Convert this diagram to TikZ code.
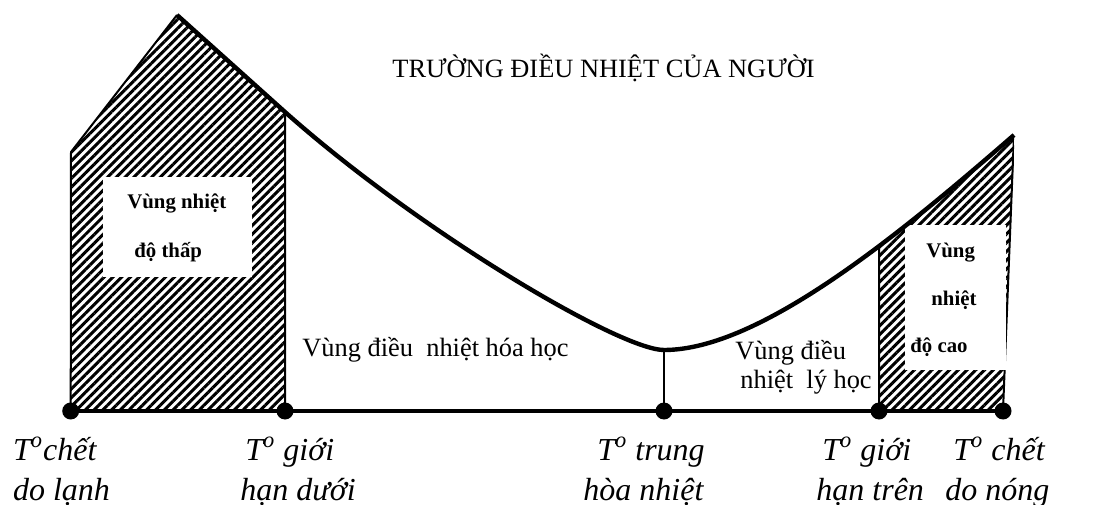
\documentclass[tikz,border=0pt]{standalone}
\usepackage{fontspec}
\setmainfont{Liberation Serif}
\usetikzlibrary{patterns.meta}

\tikzset{
  hatch/.style={pattern={Lines[angle=45,distance=3.1pt,line width=1.5pt]}},
  zonetxt/.style={anchor=base west, inner sep=0pt, font=\fontsize{13.2}{16}\selectfont},
  boxtxt/.style={anchor=base west, inner sep=0pt, font=\fontsize{10.4}{12}\selectfont\bfseries},
  templbl/.style={anchor=base west, inner sep=0pt, font=\fontsize{16}{20}\selectfont\itshape},
}

\begin{document}
\begin{tikzpicture}[x=0.5pt, y=0.5pt]
  \useasboundingbox (0,0) rectangle (1102,504);
  % points on the temperature axis
  \coordinate (cold) at (70.7,93);
  \coordinate (low) at (285,93);
  \coordinate (mid) at (664,93);
  \coordinate (up) at (879,93);
  \coordinate (hot) at (1003,93);
  % points on the curve
  \coordinate (apex) at (177,489);
  \coordinate (corner) at (71,352);
  \coordinate (knee) at (285,392);
  \coordinate (mn) at (664,154);
  \coordinate (peak) at (1014,369);

  % cold zone
  \fill[hatch] (cold) -- (corner) -- (apex) -- (knee) -- (low) -- cycle;
  \draw[line width=1pt] (low) -- (knee) (apex) -- (corner) -- (cold);
  % hot zone, cut off under the curve
  \begin{scope}
    \clip (mn) .. controls (760,154) and (900,270) .. (peak) -- (1020,93) -- (mid) -- cycle;
    \fill[hatch] (up) -- (879,400) -- (1016,400) -- (hot) -- cycle;
    \draw[line width=1pt] (up) -- (879,400) (hot) -- (1015.2,400);
  \end{scope}
  % white label boxes
  \fill[white] (103,227) rectangle (252,327);
  \fill[white] (905,134) rectangle (1006,279);

  \draw[line width=2.2pt, line join=round] (apex) -- (knee)
    .. controls (420,272) and (620,154) .. (mn)
    .. controls (760,154) and (900,270) .. (peak);
  \draw[line width=0.7pt] (mn) -- (mid);
  \draw[line width=2pt] (cold) -- (hot);
  \foreach \p in {cold,low,mid,up,hot}
    \fill (\p) circle (4.25pt);

  \node[zonetxt] (title) at (392,426) {TRƯỜNG ĐIỀU NHIỆT CỦA NGƯỜI};
  \node[zonetxt] (chem) at (302,148) {Vùng điều\ \ nhiệt hóa học};
  \node[zonetxt] (phys1) at (735,145) {Vùng điều};
  \node[zonetxt] (phys2) at (740,116) {nhiệt\ \ lý học};

  \node[boxtxt] (cold1) at (127,295) {Vùng nhiệt};
  \node[boxtxt] (cold2) at (134,247) {độ thấp};
  \node[boxtxt] (hot1) at (926,247) {Vùng};
  \node[boxtxt] (hot2) at (931,199) {nhiệt};
  \node[boxtxt] (hot3) at (910,152) {độ cao};

  \foreach \nm/\xa/\xb/\la/\lb in {
      cold/12.7/12.7/{T\textsuperscript{o}chết}/{do lạnh},
      low/245/240/{T\textsuperscript{o} giới}/{hạn dưới},
      mid/597/583/{T\textsuperscript{o} trung}/{hòa nhiệt},
      up/822/816/{T\textsuperscript{o} giới}/{hạn trên},
      hot/953/945/{T\textsuperscript{o} chết}/{do nóng}} {
    \node[templbl] (\nm-a) at (\xa,44) {\la};
    \node[templbl] (\nm-b) at (\xb,4) {\lb};
  }
\end{tikzpicture}
\end{document}
